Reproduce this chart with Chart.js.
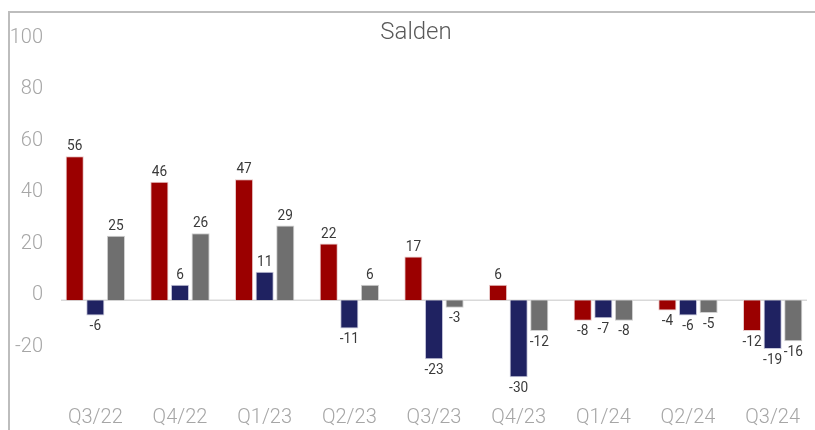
<!DOCTYPE html>
<html>
<head>
<meta charset="utf-8">
<script src="https://cdn.jsdelivr.net/npm/chart.js@4/dist/chart.umd.min.js"></script>
<style>
  html, body { margin: 0; padding: 0; background: #ffffff; }
  #wrap { position: relative; width: 815px; height: 430px; overflow: hidden; }
  #frame { position: absolute; left: 8px; top: 11px; width: 900px; height: 500px;
           border-top: 2px solid #bdbdbd; border-left: 2px solid #bdbdbd; box-sizing: border-box; }
  canvas { position: absolute; left: 0; top: 0; }
</style>
</head>
<body>
<div id="wrap">
  <div id="frame"></div>
  <canvas id="c" width="815" height="430"></canvas>
</div>
<script>
const categories = ['Q3/22','Q4/22','Q1/23','Q2/23','Q3/23','Q4/23','Q1/24','Q2/24','Q3/24'];
const seriesRed  = [56, 46, 47, 22, 17, 6, -8, -4, -12];
const seriesBlue = [-6, 6, 11, -11, -23, -30, -7, -6, -19];
const seriesGray = [25, 26, 29, 6, -3, -12, -8, -5, -16];
const yTickValues = [100, 80, 60, 40, 20, 0, -20];
const chartTitle = 'Salden';

const zeroLine = {
  id: 'zeroLine',
  beforeDatasetsDraw(chart) {
    const y = chart.scales.y.getPixelForValue(0);
    const ctx = chart.ctx;
    ctx.save();
    ctx.strokeStyle = '#d9d9d9';
    ctx.lineWidth = 1.5;
    ctx.beginPath();
    ctx.moveTo(61, y);
    ctx.lineTo(807, y);
    ctx.stroke();
    ctx.restore();
  }
};

const titleText = {
  id: 'titleText',
  afterDraw(chart) {
    const ctx = chart.ctx;
    ctx.save();
    ctx.font = '300 24px Roboto, sans-serif';
    ctx.fillStyle = '#595959';
    ctx.textAlign = 'center';
    ctx.textBaseline = 'middle';
    ctx.fillText(chartTitle, 416, 33);
    ctx.restore();
  }
};

const valueLabels = {
  id: 'valueLabels',
  afterDatasetsDraw(chart) {
    const ctx = chart.ctx;
    chart.data.datasets.forEach((ds, di) => {
      const meta = chart.getDatasetMeta(di);
      meta.data.forEach((bar, i) => {
        const v = ds.data[i];
        ctx.save();
        ctx.font = '15.5px Roboto, sans-serif';
        ctx.fillStyle = '#3a3a3a';
        ctx.textAlign = 'center';
        const yPos = v >= 0 ? bar.y - 2 : bar.y + 3;
        ctx.textBaseline = v >= 0 ? 'bottom' : 'top';
        ctx.translate(bar.x, yPos);
        ctx.scale(0.88, 1);
        ctx.fillText(String(v), 0, 0);
        ctx.restore();
      });
    });
  }
};

new Chart(document.getElementById('c'), {
  type: 'bar',
  data: {
    labels: categories,
    datasets: [
      { data: seriesRed,  backgroundColor: '#9b0000', borderColor: '#e8c8c8', borderWidth: 1 },
      { data: seriesBlue, backgroundColor: '#1f2261', borderColor: '#c8c8dc', borderWidth: 1 },
      { data: seriesGray, backgroundColor: '#6f6f6f', borderColor: '#d0d0d0', borderWidth: 1 }
    ]
  },
  options: {
    responsive: false,
    animation: false,
    devicePixelRatio: 1,
    layout: { padding: { left: 0, right: 0, top: 43, bottom: 0 } },
    datasets: { bar: { categoryPercentage: 0.73, barPercentage: 0.88 } },
    plugins: {
      legend: { display: false },
      tooltip: { enabled: false },
      title: { display: false }
    },
    scales: {
      x: {
        offset: true,
        grid: { display: false, drawTicks: false },
        border: { display: false },
        ticks: {
          color: '#a6a6a6',
          font: { family: 'Roboto', size: 20, weight: '300' },
          padding: 3,
          maxRotation: 0
        },
        afterFit(scale) { scale.height = 27; }
      },
      y: {
        min: -40,
        max: 100,
        afterBuildTicks(scale) { scale.ticks = [-40].concat(yTickValues.slice().reverse()).map(v => ({ value: v })); },
        grid: { display: false, drawTicks: false },
        border: { display: false },
        ticks: {
          color: '#a6a6a6',
          font: { family: 'Roboto', size: 20, weight: '300' },
          padding: 10,
          labelOffset: -5,
          callback: (v) => (yTickValues.includes(v) ? String(v) : '')
        },
        afterFit(scale) { scale.width = 53; }
      }
    }
  },
  plugins: [zeroLine, valueLabels, titleText]
});
</script>
</body>
</html>
